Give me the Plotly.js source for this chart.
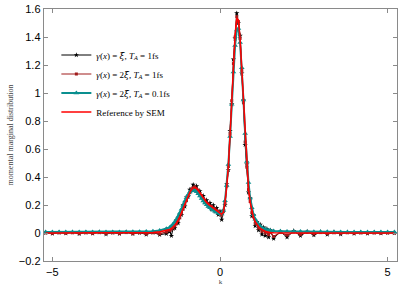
<!DOCTYPE html>
<html>
<head>
<meta charset="utf-8">
<script src="https://cdn.plot.ly/plotly-3.0.1.min.js"></script>
<style>html,body{margin:0;padding:0;background:#fff;}#chart{width:401px;height:286px;}</style>
</head>
<body>
<div id="chart"></div>
<script>
// k grid (shared by all series)
const k = [
 -5.2,-5.0,-4.8,-4.6,-4.4,-4.2,-4.0,-3.8,-3.6,-3.4,-3.2,-3.0,-2.8,-2.6,-2.4,-2.2,-2.0,-1.8,-1.6,
 -1.50,-1.45,-1.40,-1.35,-1.30,-1.25,-1.20,-1.15,-1.10,-1.05,-1.00,-0.95,-0.90,-0.85,-0.80,-0.75,-0.70,-0.65,-0.60,-0.55,
 -0.50,-0.45,-0.40,-0.35,-0.30,-0.25,-0.20,-0.15,-0.10,-0.05,0.00,0.05,0.10,0.15,0.20,0.25,0.30,0.35,0.40,0.45,
 0.50,0.55,0.60,0.65,0.70,0.75,0.80,0.85,0.90,0.95,1.00,1.05,1.10,1.15,1.20,1.25,1.30,1.35,1.40,1.45,1.50,
 1.6,1.8,2.0,2.2,2.4,2.6,2.8,3.0,3.2,3.4,3.6,3.8,4.0,4.2,4.4,4.6,4.8,5.0,5.2
];

// gamma(x) = xi-bar, T_A = 1fs
const seriesXiBar1fs = [
 0.002,-0.004,0.003,-0.002,0.005,-0.006,0.004,-0.003,0.006,-0.008,0.003,-0.005,0.007,-0.006,0.002,-0.01,0.004,-0.012,-0.005,
 0.01,-0.02,0.03,0.035,0.09,0.07,0.13,0.13,0.2,0.19,0.255,0.26,0.31,0.305,0.345,0.32,0.335,0.29,0.3,0.255,
 0.265,0.22,0.235,0.195,0.215,0.17,0.2,0.155,0.18,0.13,0.155,0.095,0.16,0.2,0.35,0.45,0.73,0.92,1.24,1.39,
 1.57,1.5,1.41,1.14,0.95,0.63,0.49,0.29,0.25,0.12,0.13,0.05,0.08,0.02,0.06,-0.01,0.04,-0.02,0.03,-0.03,0.02,
 -0.04,0.01,-0.03,0.015,-0.02,0.01,-0.015,0.008,-0.01,0.006,-0.008,0.005,-0.004,0.004,-0.003,0.003,-0.002,0.002,0
];

// gamma(x) = 2 xi-bar, T_A = 1fs
const series2Xi1fs = [
 0.001,-0.002,0.002,-0.001,0.002,-0.003,0.002,-0.002,0.003,-0.003,0.002,-0.004,0.003,-0.004,0.002,-0.006,0.002,-0.006,0.008,
 0.018,0.028,0.036,0.052,0.065,0.088,0.108,0.142,0.17,0.205,0.232,0.268,0.288,0.315,0.322,0.33,0.316,0.307,0.282,0.268,
 0.244,0.235,0.215,0.209,0.192,0.189,0.174,0.173,0.158,0.156,0.138,0.128,0.152,0.215,0.335,0.475,0.705,0.945,1.21,1.4,
 1.545,1.51,1.39,1.16,0.93,0.65,0.47,0.31,0.225,0.145,0.115,0.07,0.062,0.035,0.036,0.012,0.02,0.0,0.01,-0.012,0.005,
 -0.025,0.004,-0.015,0.006,-0.01,0.004,-0.006,0.003,-0.004,0.002,-0.003,0.002,-0.002,0.001,-0.001,0.001,-0.001,0.001,0
];

// gamma(x) = 2 xi-bar, T_A = 0.1fs
const series2Xi01fs = [
 0.008,0.008,0.008,0.008,0.008,0.008,0.008,0.008,0.008,0.008,0.008,0.008,0.008,0.009,0.009,0.01,0.012,0.018,0.03,
 0.04,0.05,0.062,0.078,0.096,0.118,0.143,0.17,0.198,0.226,0.252,0.274,0.292,0.303,0.307,0.304,0.295,0.281,0.264,0.246,
 0.229,0.214,0.201,0.19,0.18,0.171,0.163,0.156,0.149,0.142,0.137,0.136,0.16,0.23,0.34,0.49,0.69,0.92,1.15,1.34,
 1.45,1.46,1.36,1.18,0.95,0.71,0.51,0.36,0.25,0.18,0.13,0.098,0.076,0.06,0.048,0.038,0.031,0.026,0.022,0.019,0.017,
 0.015,0.012,0.011,0.01,0.01,0.009,0.009,0.009,0.009,0.008,0.008,0.008,0.008,0.008,0.008,0.008,0.008,0.008,0.008
];

// Reference by SEM
const seriesSEM = [
 0,0,0,0,0,0,0,0,0,0,0,0,0,0,0.001,0.002,0.004,0.008,0.017,
 0.025,0.032,0.042,0.055,0.07,0.09,0.115,0.145,0.175,0.205,0.235,0.265,0.29,0.31,0.322,0.325,0.318,0.303,0.285,0.265,
 0.247,0.232,0.218,0.206,0.196,0.186,0.178,0.17,0.162,0.153,0.143,0.133,0.15,0.22,0.33,0.48,0.7,0.95,1.2,1.41,
 1.535,1.52,1.38,1.17,0.92,0.66,0.46,0.32,0.22,0.155,0.11,0.08,0.06,0.045,0.033,0.024,0.017,0.012,0.008,0.005,0.003,
 0.002,0.001,0,0,0,0,0,0,0,0,0,0,0,0,0,0,0,0,0
];

const XI = '<span style="font-family:DejaVu Serif;font-style:italic">ξ\u0304</span>';
const legendNames = [
 '<i>γ</i>(<i>x</i>) = ' + XI + ', <i>T<sub>A</sub></i> = 1fs',
 '<i>γ</i>(<i>x</i>) = 2' + XI + ', <i>T<sub>A</sub></i> = 1fs',
 '<i>γ</i>(<i>x</i>) = 2' + XI + ', <i>T<sub>A</sub></i> = 0.1fs',
 'Reference by SEM'
];
const yTicks = [-0.2,0,0.2,0.4,0.6,0.8,1,1.2,1.4,1.6];
const yTickText = ['\u22120.2','0','0.2','0.4','0.6','0.8','1','1.2','1.4','1.6'];
const xTicks = [-5,0,5];
const xTickText = ['\u22125','0','5'];

const traces = [
 {x:k, y:seriesXiBar1fs, name:legendNames[0], mode:'lines+markers', line:{color:'#000000', width:1}, marker:{color:'#000000', size:4, symbol:'star'}},
 {x:k, y:series2Xi1fs, name:legendNames[1], mode:'lines+markers', line:{color:'#a01c1c', width:1.2}, marker:{color:'#a01c1c', size:3, symbol:'square'}},
 {x:k, y:series2Xi01fs, name:legendNames[2], mode:'lines+markers', line:{color:'#0a8f8f', width:2}, marker:{color:'#0a8f8f', size:5, symbol:'triangle-up'}},
 {x:k, y:seriesSEM, name:legendNames[3], mode:'lines', line:{color:'#ff0000', width:1.6}}
];

const axisCommon = {showline:true, mirror:'ticks', linecolor:'#8a8a8a', linewidth:1.3, ticks:'inside', ticklen:4, tickcolor:'#8a8a8a', tickwidth:1, showgrid:false, zeroline:false, tickfont:{family:'Liberation Sans, Arial, sans-serif', size:11, color:'#000'}};

const layout = {
 width:401, height:286,
 margin:{l:44, r:4, t:9, b:25},
 paper_bgcolor:'#fff', plot_bgcolor:'#fff',
 showlegend:true,
 legend:{x:0.035, y:0.875, xanchor:'left', yanchor:'top', bgcolor:'rgba(0,0,0,0)', itemwidth:30, font:{family:'Liberation Serif, Times New Roman, serif', size:9, color:'#000'}, tracegroupgap:0},
 xaxis:Object.assign({}, axisCommon, {range:[-5.25,5.28], tickvals:xTicks, ticktext:xTickText, title:{text:'k', font:{family:'Liberation Serif, serif', size:7}, standoff:2}}),
 yaxis:Object.assign({}, axisCommon, {range:[-0.2,1.6], tickvals:yTicks, ticktext:yTickText, title:{text:'momental marginal distribution', font:{family:'Liberation Serif, serif', size:8}, standoff:4}})
};

Plotly.newPlot('chart', traces, layout, {displayModeBar:false, staticPlot:true});
</script>
</body>
</html>
